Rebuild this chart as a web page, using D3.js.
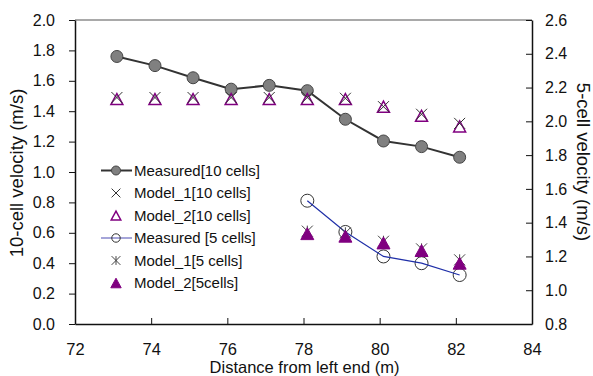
<!DOCTYPE html>
<html><head><meta charset="utf-8">
<script src="https://cdn.jsdelivr.net/npm/d3@7"></script>
<style>
body{margin:0;background:#fff;}
svg{display:block;font-family:"Liberation Sans",Arial,sans-serif;}
</style></head>
<body>
<svg id="c" width="593" height="376"></svg>
<script>
// ---- data ----
const x10 = [73.1, 74.1, 75.1, 76.1, 77.1, 78.1, 79.1, 80.1, 81.1, 82.1];
const measured10 = [1.76, 1.70, 1.62, 1.545, 1.57, 1.535, 1.347, 1.204, 1.167, 1.097];
const model1_10 = [1.49, 1.49, 1.49, 1.49, 1.49, 1.49, 1.485, 1.43, 1.38, 1.32];
const model2_10 = [1.48, 1.48, 1.48, 1.48, 1.48, 1.48, 1.48, 1.43, 1.37, 1.30];
const x5 = [78.1, 79.1, 80.1, 81.1, 82.1];
const measured5 = [1.53, 1.345, 1.20, 1.16, 1.09];
const model1_5 = [1.35, 1.34, 1.29, 1.245, 1.18];
const model2_5 = [1.335, 1.32, 1.28, 1.235, 1.16];
const xTicks = [72, 74, 76, 78, 80, 82, 84];
const yLeftTicks = [0, 0.2, 0.4, 0.6, 0.8, 1.0, 1.2, 1.4, 1.6, 1.8, 2.0];
const yRightTicks = [0.8, 1.0, 1.2, 1.4, 1.6, 1.8, 2.0, 2.2, 2.4, 2.6];
const legendNames = ["Measured[10 cells]", "Model_1[10 cells]", "Model_2[10 cells]",
                     "Measured [5 cells]", "Model_1[5 cells]", "Model_2[5cells]"];
const xTitle = "Distance from left end (m)";
const yLeftTitle = "10-cell velocity (m/s)";
const yRightTitle = "5-cell velocity (m/s)";

// ---- layout ----
const L = 75, R = 532, T = 20, B = 324;
const svg = d3.select("#c");
const x = d3.scaleLinear().domain([72, 84]).range([L, R]);
const yL = d3.scaleLinear().domain([0, 2]).range([B, T]);
const yR = d3.scaleLinear().domain([0.8, 2.6]).range([B, T]);

const purple = "#800080", gray = "#808080", dark = "#333", blue = "#1f2fa8";

// top border
svg.append("line").attr("x1", L).attr("x2", R).attr("y1", T).attr("y2", T)
  .attr("stroke", "#555").attr("stroke-width", 1.2);

function styleAxis(g, fs) {
  g.select(".domain").attr("stroke", "#111").attr("stroke-width", 1.5);
  g.selectAll(".tick line").attr("stroke", "#111").attr("stroke-width", 1);
  g.selectAll(".tick text").attr("fill", "#111").style("font-size", fs + "px")
    .style("font-family", '"Liberation Sans",Arial,sans-serif');
}
const gx = svg.append("g").attr("transform", `translate(0,${B})`)
  .call(d3.axisBottom(x).tickValues(xTicks).tickFormat(d3.format("d"))
    .tickSizeInner(-6).tickSizeOuter(0).tickPadding(19));
styleAxis(gx, 16.5);
const gl = svg.append("g").attr("transform", `translate(${L},0)`)
  .call(d3.axisLeft(yL).tickValues(yLeftTicks).tickFormat(d3.format(".1f"))
    .tickSizeInner(6).tickSizeOuter(0).tickPadding(14));
styleAxis(gl, 16);
const gr = svg.append("g").attr("transform", `translate(${R},0)`)
  .call(d3.axisRight(yR).tickValues(yRightTicks).tickFormat(d3.format(".1f"))
    .tickSizeInner(-6).tickSizeOuter(0).tickPadding(13));
styleAxis(gr, 16);

// titles
svg.append("text").attr("x", (L + R) / 2 + 1).attr("y", 372.5).attr("text-anchor", "middle")
  .style("font-size", "16.5px").attr("fill", "#111").text(xTitle);
svg.append("text").attr("transform", `translate(23,${(T + B) / 2 + 1}) rotate(-90)`)
  .attr("text-anchor", "middle").style("font-size", "18.5px").attr("fill", "#111").text(yLeftTitle);
svg.append("text").attr("transform", `translate(577,162) rotate(90)`)
  .attr("text-anchor", "middle").style("font-size", "18.5px").attr("fill", "#111").text(yRightTitle);

// marker helpers
function triPath(s) { // centered on bounding box
  const h = s * 0.92;
  return `M0,${-h / 2}L${s / 2},${h / 2}L${-s / 2},${h / 2}Z`;
}
function xPath(s) { const a = s / 2; return `M${-a},${-a}L${a},${a}M${-a},${a}L${a},${-a}`; }
function starPath(s) { const a = s / 2; return xPath(s) + `M0,${-a}L0,${a}`; }

function drawMarker(g, type, cx, cy, scale) {
  const k = scale || 1;
  const m = g.append("g").attr("transform", `translate(${cx},${cy})`);
  if (type === "m10") m.append("circle").attr("r", 6 * k).attr("fill", gray).attr("stroke", "#444").attr("stroke-width", 1);
  if (type === "x10") m.append("path").attr("d", xPath(11 * k)).attr("stroke", "#333").attr("stroke-width", 1).attr("fill", "none");
  if (type === "t10") m.append("path").attr("d", triPath(12 * k)).attr("stroke", purple).attr("stroke-width", 1.5).attr("fill", "none");
  if (type === "m5") m.append("circle").attr("r", 6.5 * k).attr("fill", "none").attr("stroke", "#333").attr("stroke-width", 1);
  if (type === "s5") m.append("path").attr("d", starPath(11 * k)).attr("stroke", "#444").attr("stroke-width", 1).attr("fill", "none");
  if (type === "t5") m.append("path").attr("d", triPath(13 * k)).attr("fill", purple).attr("stroke", purple).attr("stroke-width", 1);
}

const plot = svg.append("g");
// Measured 10 cells
plot.append("path").datum(x10.map((d, i) => [d, measured10[i]]))
  .attr("d", d3.line().x(d => x(d[0])).y(d => yL(d[1])))
  .attr("fill", "none").attr("stroke", dark).attr("stroke-width", 2);
x10.forEach((d, i) => drawMarker(plot, "m10", x(d), yL(measured10[i])));
// Model_2 10 cells
x10.forEach((d, i) => drawMarker(plot, "t10", x(d), yL(model2_10[i])));
// Model_1 10 cells
x10.forEach((d, i) => drawMarker(plot, "x10", x(d), yL(model1_10[i])));
// Measured 5 cells
x5.forEach((d, i) => drawMarker(plot, "m5", x(d), yR(measured5[i])));
plot.append("path").datum(x5.map((d, i) => [d, measured5[i]]))
  .attr("d", d3.line().x(d => x(d[0])).y(d => yR(d[1])))
  .attr("fill", "none").attr("stroke", blue).attr("stroke-width", 1.2);
// Model_1 5 cells
x5.forEach((d, i) => drawMarker(plot, "s5", x(d), yR(model1_5[i])));
// Model_2 5 cells
x5.forEach((d, i) => drawMarker(plot, "t5", x(d), yR(model2_5[i])));

// legend
const types = ["m10", "x10", "t10", "m5", "s5", "t5"];
const lg = svg.append("g");
legendNames.forEach((name, i) => {
  const cy = 170.5 + i * 22.5;
  if (i === 0) lg.append("line").attr("x1", 101).attr("x2", 132).attr("y1", cy).attr("y2", cy).attr("stroke", dark).attr("stroke-width", 2);
  if (i === 3) lg.append("line").attr("x1", 101).attr("x2", 132).attr("y1", cy).attr("y2", cy).attr("stroke", "#6a6ac0").attr("stroke-width", 1.2);
  drawMarker(lg, types[i], 116, cy, i === 0 ? 0.75 : (i === 3 ? 0.65 : 0.8));
  lg.append("text").attr("x", 134).attr("y", cy).attr("dy", "0.36em")
    .style("font-size", "15px").attr("fill", "#111").text(name);
});
</script>
</body></html>
